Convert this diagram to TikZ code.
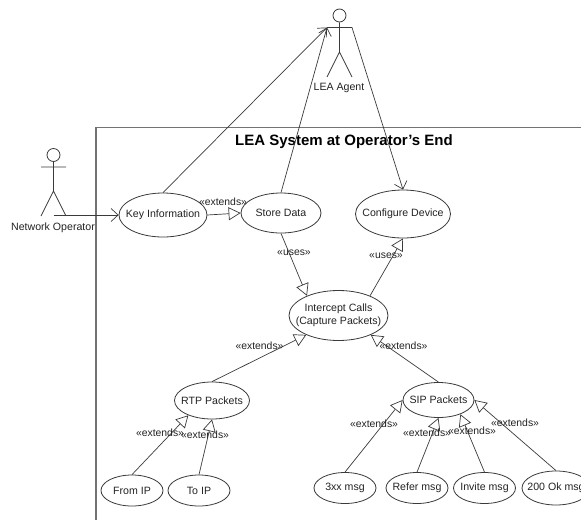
\documentclass[tikz,border=0pt]{standalone}
\usepackage{fontspec}
\setmainfont{Liberation Sans}
\usetikzlibrary{arrows.meta,shapes.geometric}
\definecolor{ink}{HTML}{3A3A3A}
\definecolor{txt}{HTML}{222222}
\newcommand{\zw}[1]{\makebox[0pt][c]{#1}}
\tikzset{
  usecase/.style={draw=ink,line width=0.8pt,ellipse,inner sep=0pt,minimum width=#1,text=txt,font=\fontsize{10.6}{12.5}\selectfont},
  limb/.style={draw=ink,line width=0.8pt},
  assoc/.style={draw=ink,line width=0.7pt,-{Straight Barb[length=7pt,width=13pt,line width=0.7pt]}},
  gener/.style={draw=ink,line width=0.7pt,-{Triangle[length=12pt,width=13pt,line width=0.7pt,fill=white]}},
  stereo/.style={text=txt,font=\fontsize{10.4}{12.5}\selectfont,inner sep=0pt},
  actorlabel/.style={text=txt,font=\fontsize{10.6}{12.5}\selectfont,inner sep=0pt},
  frameline/.style={draw=black!55,line width=1.2pt},
}
\begin{document}
\begin{tikzpicture}[x=1pt,y=-1pt]
\useasboundingbox (0,0) rectangle (581,520);
\clip (0,0) rectangle (581,520);
\draw[frameline] (96,520) -- (96,127.5) -- (590,127.5);
\node[font=\bfseries\fontsize{15}{17}\selectfont,inner sep=0pt] (title) at (344,141.5) {LEA System at Operator's End};

% actors
\node[draw=ink,line width=0.8pt,circle,minimum size=13pt,inner sep=0pt] (nohead) at (53.5,155) {};
\coordinate (nohip) at (53.5,191);
\coordinate (noarmL) at (41,167);
\coordinate (noarmR) at (66,167);
\coordinate (nolegL) at (41,216);
\coordinate (nolegR) at (66,216);
\coordinate (nohand) at (53.5,215);
\draw[limb] (nohead) -- (nohip) (noarmL) -- (noarmR) (nolegL) -- (nohip) -- (nolegR);
\node[actorlabel] (nolabel) at (53,227.5) {Network Operator};

\node[draw=ink,line width=0.8pt,circle,minimum size=13pt,inner sep=0pt] (leahead) at (339.5,15.5) {};
\coordinate (leahip) at (339.5,52);
\coordinate (leaarmL) at (327,27.5);
\coordinate (leaarmR) at (352,27.5);
\coordinate (lealegL) at (327,77);
\coordinate (lealegR) at (352,77);
\draw[limb] (leahead) -- (leahip) (leaarmL) -- (leaarmR) (lealegL) -- (leahip) -- (lealegR);
\node[actorlabel] (lealabel) at (339,88) {LEA Agent};

% use cases
\node[usecase=88pt,minimum height=44pt] (key) at (163,215) {\zw{Key Information}};
\node[usecase=80pt,minimum height=40pt] (store) at (281,213) {\zw{Store Data}};
\node[usecase=95pt,minimum height=48pt] (conf) at (403,214) {\zw{Configure Device}};
\node[usecase=99pt,minimum height=50pt] (cap) at (338.5,315.5) {\zw{\begin{tabular}{@{}c@{}}Intercept Calls\\(Capture Packets)\end{tabular}}};
\node[usecase=75pt,minimum height=37pt] (rtp) at (212,400.5) {\zw{RTP Packets}};
\node[usecase=62pt,minimum height=31pt] (from) at (132,490.5) {\zw{From IP}};
\node[usecase=62pt,minimum height=31pt] (toip) at (199,490.5) {\zw{To IP}};
\node[usecase=71pt,minimum height=35pt] (sip) at (438.5,400) {\zw{SIP Packets}};
\node[usecase=62pt,minimum height=31pt] (xx) at (345,488) {\zw{3xx msg}};
\node[usecase=62pt,minimum height=31pt] (refer) at (417,488) {\zw{Refer msg}};
\node[usecase=62pt,minimum height=31pt] (invite) at (484.5,488) {\zw{Invite msg}};
\node[usecase=68pt,minimum height=34pt] (ok) at (556,488) {\zw{200 Ok msg}};

% connectors
\draw[assoc] (nohand) -- (key.west);
\draw[assoc] (key.north) -- (leaarmL);
\draw[assoc] (store.north) -- (leaarmL);
\draw[assoc] (leaarmR) -- (conf.north);
\draw[gener] (key.east) -- (store.west);
\draw[gener] (store.south) -- (cap.148);
\draw[gener] (cap.32) -- (conf.south);
\draw[gener] (rtp.north) -- (cap.211);
\draw[gener] (sip.north) -- (cap.329);
\draw[gener] (from.north) -- (rtp.212);
\draw[gener] (toip.north) -- (rtp.south);
\draw[gener] (xx.north) -- (sip.west);
\draw[gener] (refer.north) -- (sip.south);
\draw[gener] (invite.north) -- (sip.327);
\draw[gener] (ok.north) -- (sip.east);

% stereotypes
\node[stereo] (s1) at (223,202) {«extends»};
\node[stereo] (s2) at (294,253) {«uses»};
\node[stereo] (s3) at (386,255.5) {«uses»};
\node[stereo] (s4) at (259.5,346) {«extends»};
\node[stereo] (s5) at (403.5,346) {«extends»};
\node[stereo] (s6) at (160,433) {«extends»};
\node[stereo] (s7) at (205,435) {«extends»};
\node[stereo] (s8) at (374,424) {«extends»};
\node[stereo] (s9) at (427,433) {«extends»};
\node[stereo] (s10) at (472,431) {«extends»};
\node[stereo] (s11) at (515,423) {«extends»};
\end{tikzpicture}
\end{document}
